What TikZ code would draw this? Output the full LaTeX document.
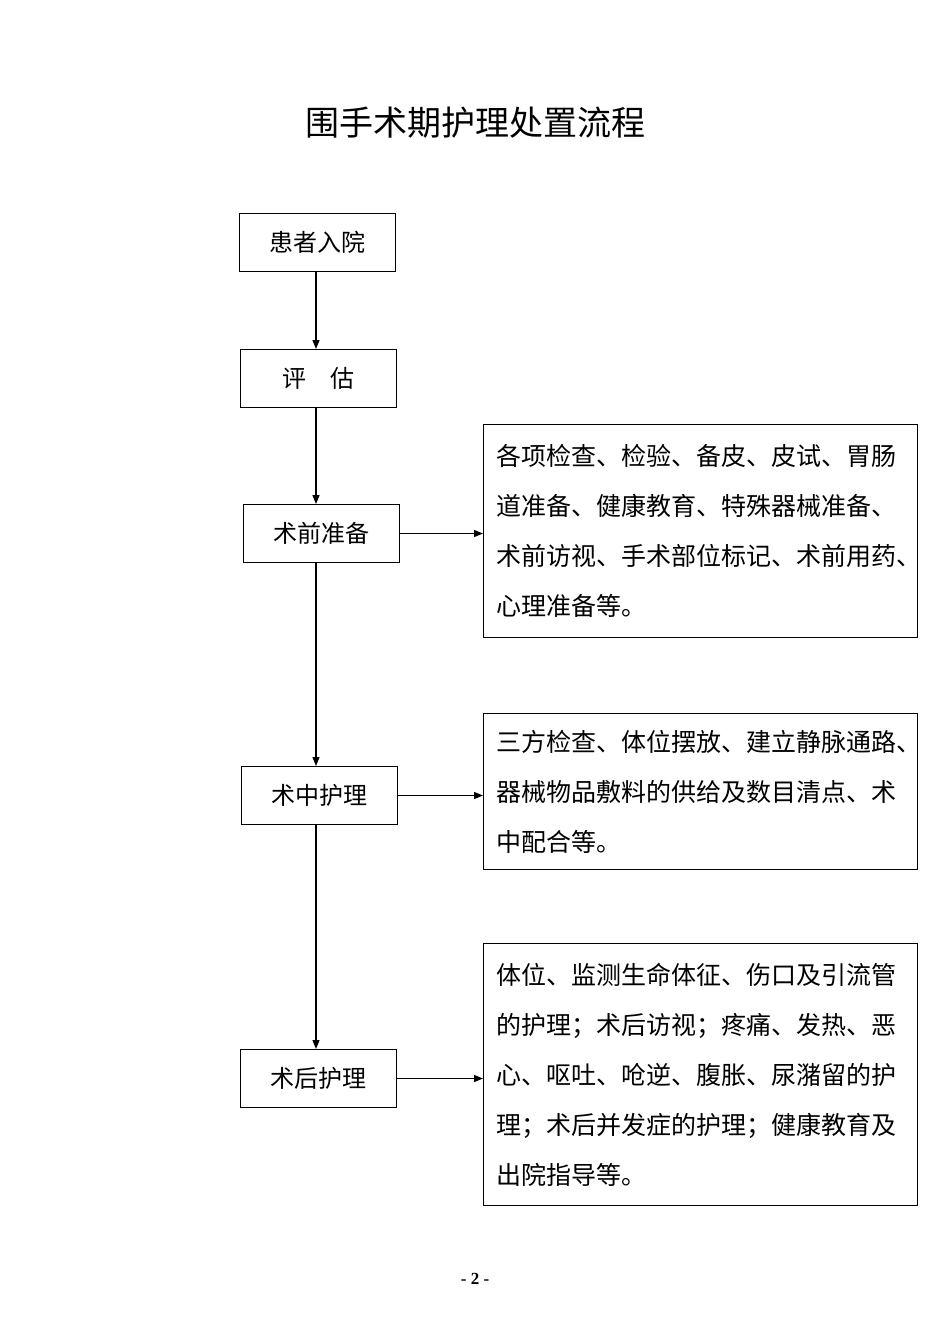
\documentclass[tikz,border=0pt]{standalone}
\usepackage{fontspec}
\newfontfamily\cjk{Noto Sans CJK SC}
\setmainfont{Liberation Serif}
\usetikzlibrary{arrows.meta}
\begin{document}
\begin{tikzpicture}[x=1pt,y=-1pt,
  lbox/.style={draw,line width=1pt,minimum width=156pt,minimum height=58pt,anchor=north west,font=\cjk\fontsize{24}{25}\selectfont,inner sep=0pt},
  rbox/.style={draw,line width=1pt,anchor=north west,minimum width=434pt,align=left,font=\cjk\fontsize{25}{50}\selectfont,inner xsep=13pt,inner ysep=11pt,text width=408pt},
  arr/.style={-{Triangle[length=9pt,width=7pt]},line width=1.3pt}]
\useasboundingbox (0,0) rectangle (950,1344);
\node[font=\cjk\fontsize{34}{36}\selectfont] (title) at (475,123) {围手术期护理处置流程};
\node[lbox] (a) at (239,213) {患者入院};
\node[lbox] (b) at (240,349) {评\quad 估};
\node[lbox] (c) at (243,504) {术前准备};
\node[lbox] (d) at (241,766) {术中护理};
\node[lbox] (e) at (240,1049) {术后护理};
\node[rbox,minimum height=213pt] (r1) at (483,424) {各项检查、检验、备皮、皮试、胃肠\\道准备、健康教育、特殊器械准备、\\术前访视、手术部位标记、术前用药、\\心理准备等。};
\node[rbox,minimum height=156pt] (r2) at (483,713) {三方检查、体位摆放、建立静脉通路、\\器械物品敷料的供给及数目清点、术\\中配合等。};
\node[rbox,minimum height=262pt] (r3) at (483,943) {体位、监测生命体征、伤口及引流管\\的护理；术后访视；疼痛、发热、恶\\心、呕吐、呛逆、腹胀、尿潴留的护\\理；术后并发症的护理；健康教育及\\出院指导等。};
\draw[arr] (316,271) -- (316,349);
\draw[arr] (316,407) -- (316,504);
\draw[arr] (316,562) -- (316,766);
\draw[arr] (316,824) -- (316,1049);
\draw[arr] (c.east) -- (r1.west |- c.east);
\draw[arr] (d.east) -- (r2.west |- d.east);
\draw[arr] (e.east) -- (r3.west |- e.east);
\node[font=\bfseries\fontsize{17}{18}\selectfont] (pg) at (475,1279) {- 2 -};
\end{tikzpicture}
\end{document}
